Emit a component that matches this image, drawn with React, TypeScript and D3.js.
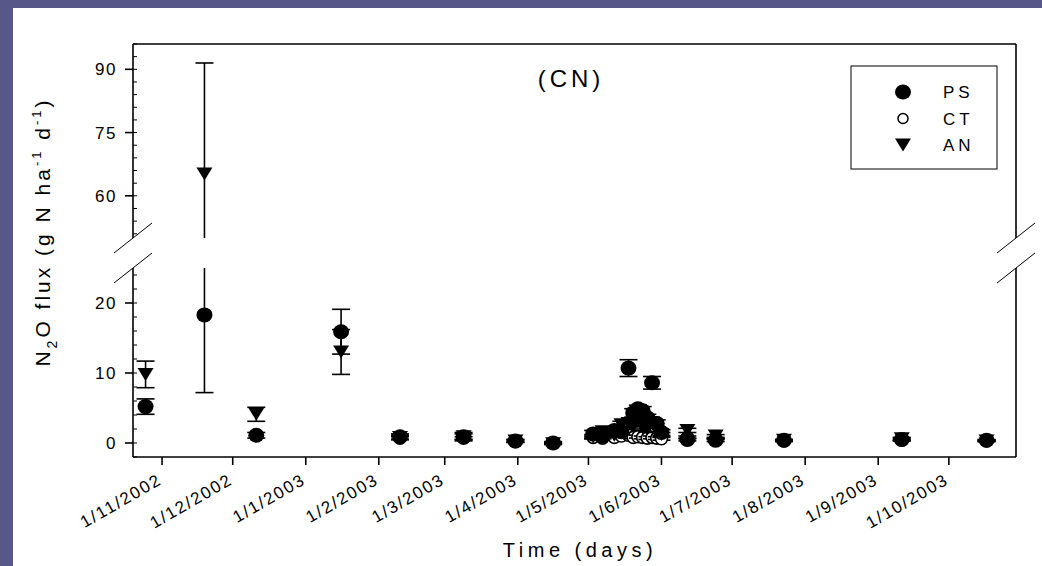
import React from "react";
import * as d3 from "d3";

// sampling dates and N2O flux (g N ha-1 d-1), mean and standard error per treatment
const sampleDates = [
  "2002-10-25", "2002-11-19", "2002-12-11", "2003-01-16", "2003-02-10",
  "2003-03-09", "2003-03-31", "2003-04-16", "2003-05-03", "2003-05-07",
  "2003-05-12", "2003-05-15", "2003-05-18", "2003-05-20", "2003-05-22",
  "2003-05-24", "2003-05-26", "2003-05-28", "2003-05-30", "2003-06-01",
  "2003-06-12", "2003-06-24", "2003-07-23", "2003-09-11", "2003-10-17",
];
const psMean = [5.2, 18.3, 1.1, 15.9, 0.9, 0.9, 0.3, 0.0, 1.3, 1.0, 1.8, 1.6, 10.7, 4.3, 4.9, 4.6, 3.6, 8.6, 2.8, 1.5, 0.5, 0.4, 0.4, 0.5, 0.4];
const psErr = [1.1, 11.1, 0.4, 3.2, 0.4, 0.6, 0.2, 0.2, 0.5, 0.4, 0.5, 0.4, 1.2, 0.6, 0.5, 0.6, 0.5, 0.9, 0.5, 0.4, 0.2, 0.2, 0.1, 0.2, 0.1];
const ctMean = [null, null, null, null, 0.7, 0.7, 0.2, 0.0, 0.8, 0.7, 0.8, 1.0, 1.1, 0.8, 0.9, 0.8, 0.7, 0.8, 0.7, 0.6, 0.8, 0.6, 0.3, 0.4, 0.3];
const ctErr = [null, null, null, null, 0.2, 0.2, 0.1, 0.1, 0.2, 0.2, 0.2, 0.2, 0.3, 0.2, 0.2, 0.2, 0.2, 0.2, 0.2, 0.2, 0.2, 0.1, 0.1, 0.1, 0.1];
const anMean = [9.8, 65.2, 4.1, 13.0, 0.8, 0.9, 0.3, -0.1, 0.9, 1.6, 1.1, 2.6, 2.8, 2.4, 3.0, 2.2, 2.0, 2.9, 1.9, 1.2, 1.8, 1.0, 0.4, 0.6, 0.3];
const anErr = [1.9, 26.3, 1.0, 3.2, 0.3, 0.4, 0.2, 0.1, 0.3, 0.4, 0.3, 0.5, 0.5, 0.4, 0.5, 0.4, 0.4, 0.5, 0.4, 0.3, 0.3, 0.2, 0.1, 0.2, 0.1];

const monthTicks = [
  "1/11/2002", "1/12/2002", "1/1/2003", "1/2/2003", "1/3/2003", "1/4/2003",
  "1/5/2003", "1/6/2003", "1/7/2003", "1/8/2003", "1/9/2003", "1/10/2003",
];
const lowerTicks = [0, 10, 20];
const upperTicks = [60, 75, 90];
const seriesNames = ["PS", "CT", "AN"];

const W = 1042, H = 566;
const left = 133, right = 1016, top = 44, bottom = 457;
const breakLo = 238, breakHi = 268; // pixel ends of upper / lower segments
const font = "'Liberation Sans', Arial, sans-serif";

const parseIso = d3.timeParse("%Y-%m-%d");
const parseDmy = d3.timeParse("%d/%m/%Y");

const x = d3.scaleTime()
  .domain([new Date(2002, 9, 19, 16), new Date(2003, 9, 29, 12)])
  .range([left, right]);
const yLow = d3.scaleLinear().domain([-2, 25]).range([bottom, breakHi]);
const yHigh = d3.scaleLinear().domain([50, 96]).range([breakLo, top]);

const segments = [yLow, yHigh];

const segOf = (v) => segments.find((s) => v >= s.domain()[0] && v <= s.domain()[1]);

const ErrorBar = ({ cx, mean, err }) => {
  const lo = mean - err, hi = mean + err;
  const out = [];
  segments.forEach((s, k) => {
    const [d0, d1] = s.domain();
    const a = Math.max(lo, d0), b = Math.min(hi, d1);
    if (a >= b) return;
    out.push(<line key={"v" + k} x1={cx} x2={cx} y1={s(a)} y2={s(b)} stroke="#000" strokeWidth={1.6} />);
    [lo, hi].forEach((c, j) => {
      if (c >= d0 && c <= d1)
        out.push(<line key={"c" + k + j} x1={cx - 9} x2={cx + 9} y1={s(c)} y2={s(c)} stroke="#000" strokeWidth={1.6} />);
    });
  });
  return <g>{out}</g>;
};

const Marker = ({ kind, cx, cy }) => {
  if (kind === "PS") return <ellipse cx={cx} cy={cy} rx={8} ry={7.5} fill="#000" />;
  if (kind === "CT") return <circle cx={cx} cy={cy} r={6} fill="#fff" stroke="#000" strokeWidth={1.6} />;
  return <path d={`M${cx - 8},${cy - 6.5}L${cx + 8},${cy - 6.5}L${cx},${cy + 6.5}Z`} fill="#000" />;
};

const Series = ({ kind, means, errs }) => (
  <g>
    {sampleDates.map((d, i) => {
      const v = means[i];
      if (v == null) return null;
      const cx = x(parseIso(d));
      const s = segOf(v);
      return (
        <g key={i}>
          {errs[i] != null && <ErrorBar cx={cx} mean={v} err={errs[i]} />}
          {s && <Marker kind={kind} cx={cx} cy={s(v)} />}
        </g>
      );
    })}
  </g>
);

const minor = (s, step) => d3.range(Math.ceil(s.domain()[0] / step) * step, s.domain()[1] + 1e-9, step);

export default function App() {
  const breakSlash = (cx, cy, k) => (
    <line key={k} x1={cx - 19} y1={cy + 15} x2={cx + 19} y2={cy - 15} stroke="#000" strokeWidth={1} />
  );
  return (
    <svg width={W} height={H} style={{ position: "absolute", left: 0, top: 0, display: "block" }}>
      <rect width={W} height={H} fill="#57578a" />
      <rect x={13} y={8} width={W - 13} height={H - 8} fill="#fff" />

      {/* frame */}
      <g stroke="#000" strokeWidth={1.6} fill="none">
        <line x1={left} x2={right} y1={top} y2={top} />
        <line x1={left} x2={right} y1={bottom} y2={bottom} />
        <line x1={left} x2={left} y1={top} y2={breakLo} />
        <line x1={left} x2={left} y1={breakHi} y2={bottom} />
        <line x1={right} x2={right} y1={top} y2={breakLo} />
        <line x1={right} x2={right} y1={breakHi} y2={bottom} />
      </g>
      {breakSlash(left, breakLo, "l1")}
      {breakSlash(left, breakHi, "l2")}
      {breakSlash(right, breakLo, "r1")}
      {breakSlash(right, breakHi, "r2")}

      {/* y minor ticks, inside */}
      <g stroke="#000" strokeWidth={1}>
        {minor(yLow, 2).map((v) => (
          <line key={"ml" + v} x1={left} x2={left + 4} y1={yLow(v)} y2={yLow(v)} />
        ))}
        {minor(yHigh, 3).map((v) => (
          <line key={"mh" + v} x1={left} x2={left + 4} y1={yHigh(v)} y2={yHigh(v)} />
        ))}
      </g>
      {/* y major ticks */}
      {[...lowerTicks.map((v) => [v, yLow(v)]), ...upperTicks.map((v) => [v, yHigh(v)])].map(([v, py]) => (
        <g key={"t" + v}>
          <line x1={left - 8} x2={left} y1={py} y2={py} stroke="#000" strokeWidth={1.6} />
          <text x={left - 16} y={py} dy="0.36em" textAnchor="end" fontFamily={font} fontSize={17} letterSpacing={1.5}>
            {v}
          </text>
        </g>
      ))}

      {/* x ticks */}
      {monthTicks.map((lab) => {
        const px = x(parseDmy(lab));
        return (
          <g key={lab}>
            <line x1={px} x2={px} y1={bottom} y2={bottom + 8} stroke="#000" strokeWidth={1.6} />
            <text
              transform={`translate(${px + 1},${bottom + 26}) rotate(-30)`}
              textAnchor="end"
              fontFamily={font}
              fontSize={17}
              letterSpacing={1.8}
            >
              {lab}
            </text>
          </g>
        );
      })}

      {/* data: CT underneath, then PS, then AN */}
      <Series kind="CT" means={ctMean} errs={ctErr} />
      <Series kind="PS" means={psMean} errs={psErr} />
      <Series kind="AN" means={anMean} errs={anErr} />

      {/* panel title */}
      <text x={571} y={87} textAnchor="middle" fontFamily={font} fontSize={24} letterSpacing={4}>(CN)</text>

      {/* legend */}
      <rect x={851} y={66} width={146} height={103} fill="#fff" stroke="#000" strokeWidth={1} />
      {seriesNames.map((n, i) => {
        const ly = 92 + i * 26.5;
        return (
          <g key={n}>
            {n === "CT" ? (
              <circle cx={903} cy={ly} r={5} fill="#fff" stroke="#000" strokeWidth={1.5} />
            ) : (
              <Marker kind={n} cx={903} cy={ly} />
            )}
            <text x={943} y={ly} dy="0.36em" fontFamily={font} fontSize={17} letterSpacing={4}>{n}</text>
          </g>
        );
      })}

      {/* axis titles */}
      <text x={580} y={557} textAnchor="middle" fontFamily={font} fontSize={20} letterSpacing={4.5}>Time (days)</text>
      <text transform="translate(50,232) rotate(-90)" textAnchor="middle" fontFamily={font} fontSize={21} letterSpacing={3}>
        N<tspan fontSize={14} dy={7}>2</tspan>
        <tspan dy={-7}>O flux (g N ha</tspan>
        <tspan fontSize={13} dy={-9}>-1</tspan>
        <tspan dy={9}> d</tspan>
        <tspan fontSize={13} dy={-9}>-1</tspan>
        <tspan dy={9}>)</tspan>
      </text>
    </svg>
  );
}
